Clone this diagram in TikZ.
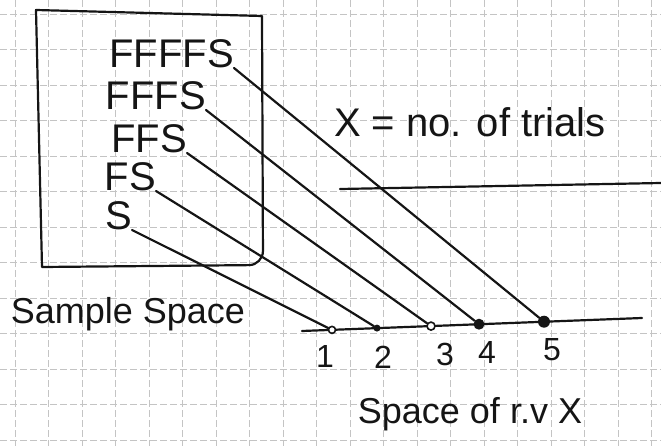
\documentclass[tikz,border=0pt]{standalone}
\usepackage{fontspec}
\setmainfont{Liberation Sans}
\usetikzlibrary{positioning}
\definecolor{gridline}{HTML}{C4C4C4}
\definecolor{ink}{HTML}{151515}

\begin{document}
\begin{tikzpicture}[
    x=1pt, y=-1pt,
    pen/.style={draw=ink, line width=2.2pt, line cap=round, line join=round},
    paper/.style={draw=gridline, line width=0.8pt, dash pattern=on 7pt off 3pt},
    outcome/.style={anchor=base east, inner sep=0pt, text=ink,
                    font=\fontsize{40}{40}\selectfont},
    label/.style={inner sep=0pt, text=ink, font=\fontsize{36}{36}\selectfont},
    numlbl/.style={inner sep=0pt, text=ink, font=\fontsize{32}{32}\selectfont},
    openpt/.style={circle, draw=ink, line width=1.6pt, fill=white, inner sep=0pt},
    fullpt/.style={circle, fill=ink, inner sep=0pt},
]
\useasboundingbox (0,0) rectangle (661,446);

% graph paper
\foreach \k in {0,...,19}
  \draw[paper] (15+33.5*\k,0) -- (15+33.5*\k,446);
\foreach \k in {0,...,12}
  \draw[paper] (0,14+35.5*\k) -- (661,14+35.5*\k);

% sample space
\draw[pen] (36,10) -- (262,16) [rounded corners=14pt] -- (263,265)
  [sharp corners] -- (42,267) -- cycle;

\node[outcome] (s5) at (234,68) {FFFFS};
\node[outcome] (s4) at (206,110) {FFFS};
\node[outcome] (s3) at (187,153) {FFS};
\node[outcome] (s2) at (156,191) {FS};
\node[outcome] (s1) at (132,230) {S};

\node[label] (ss) at (128,314) {Sample Space};

% space of X
\coordinate (axl) at (302,331);
\coordinate (axr) at (642,318);
\draw[pen] (axl) -- (axr);

\node[openpt, minimum size=7pt] (p1) at (332,329.9) {};
\node[fullpt, minimum size=7pt] (p2) at (377,328.1) {};
\node[openpt, minimum size=8pt] (p3) at (431,326.1) {};
\node[fullpt, minimum size=11pt] (p4) at (479,324.2) {};
\node[fullpt, minimum size=12pt] (p5) at (544,321.7) {};

\node[numlbl] (n1) at (325,356) {1};
\node[numlbl] (n2) at (383,357) {2};
\node[numlbl] (n3) at (445,354) {3};
\node[numlbl] (n4) at (487,352) {4};
\node[numlbl] (n5) at (552,350) {5};

\node[label] (sx) at (470,414) {Space of r.v X};

\draw[pen] (s1.base east) -- (p1);
\draw[pen] (s2.base east) -- (p2);
\draw[pen] (s3.base east) -- (p3);
\draw[pen] (s4.base east) -- (p4);
\draw[pen] (s5.base east) -- (p5);

% definition of X
\node[label, font=\fontsize{40}{40}\selectfont] (def) at (470,122) {X = no. of trials};
\coordinate (ul) at (340,189);
\coordinate (ur) at (661,183);
\draw[pen] (ul) -- (ur);
\end{tikzpicture}
\end{document}
